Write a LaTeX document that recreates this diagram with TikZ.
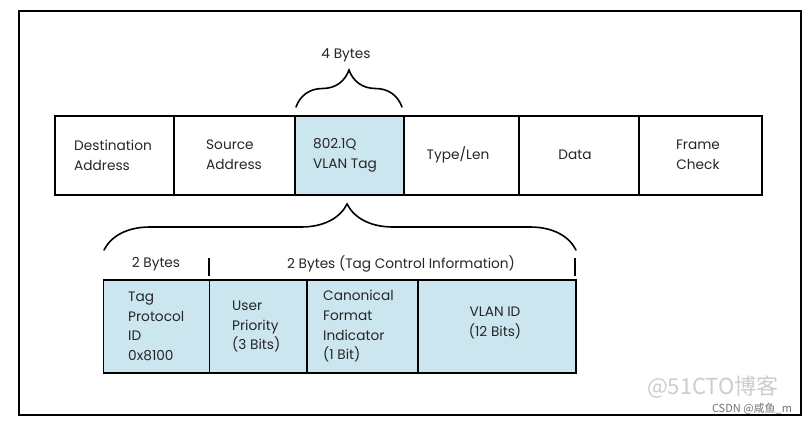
\documentclass[tikz,border=0pt]{standalone}
\usepackage{fontspec}
\setmainfont{Poppins}
\newfontfamily\cjk{Noto Sans CJK SC}
\usetikzlibrary{decorations.pathreplacing}
\definecolor{tagblue}{RGB}{204,230,240}
\definecolor{wm}{RGB}{205,205,205}
\tikzset{
  field/.style={draw=black, line width=1.3pt},
  blue/.style={field, fill=tagblue},
  lbl/.style={font=\fontsize{13.7}{19.7}\selectfont, inner sep=0pt, text=black!85},
  bracedeco/.style={decorate, line width=1.6pt, line cap=round}
}
\begin{document}
\begin{tikzpicture}[x=1pt,y=-1pt]
\useasboundingbox (0,0) rectangle (812,426);
\fill[white] (0,0) rectangle (812,426);
\draw[line width=2.8pt] (19,11) rectangle (801,415);
% top row
\node[field, inner sep=0pt, minimum width=119pt, minimum height=79pt] (dst) at (114.5,155.5) {};
\node[field, inner sep=0pt, minimum width=121pt, minimum height=79pt] (src) at (234.5,155.5) {};
\node[blue, inner sep=0pt, minimum width=109pt, minimum height=79pt] (tag) at (349.5,155.5) {};
\node[field, inner sep=0pt, minimum width=115pt, minimum height=79pt] (typ) at (461.5,155.5) {};
\node[field, inner sep=0pt, minimum width=120pt, minimum height=79pt] (dat) at (579,155.5) {};
\node[field, inner sep=0pt, minimum width=123pt, minimum height=79pt] (fcs) at (700.5,155.5) {};
\node[lbl, anchor=west, align=left] (tdst) at (74,155) {Destination\\Address};
\node[lbl, anchor=west, align=left] (tsrc) at (206,155) {Source\\Address};
\node[lbl, anchor=west, align=left] (ttag) at (313,155) {802.1Q\\VLAN Tag};
\node[lbl] (ttyp) at (458,155) {Type/Len};
\node[lbl] (tdat) at (575,155) {Data};
\node[lbl, align=center] (tfcs) at (698,155) {Frame\\Check};
% top brace
\coordinate (b1s) at (296,107);
\coordinate (b1e) at (402,107);
\draw[bracedeco, decoration={brace, amplitude=37pt}] (b1s) -- (b1e);
\node[lbl] (four) at (346,55) {4 Bytes};
% bottom brace
\coordinate (b2s) at (104,250);
\coordinate (b2e) at (576,250);
\draw[bracedeco, decoration={brace, amplitude=46pt, aspect=0.515}] (b2s) -- (b2e);
% byte labels and ticks
\node[lbl] (twob) at (156,264) {2 Bytes};
\node[lbl] (tci) at (401,264) {2 Bytes (Tag Control Information)};
\coordinate (k1a) at (209,258); \coordinate (k1b) at (209,276);
\coordinate (k2a) at (575,258); \coordinate (k2b) at (575,276);
\draw[line width=1.4pt] (k1a) -- (k1b);
\draw[line width=1.4pt] (k2a) -- (k2b);
% bottom row
\node[blue, inner sep=0pt, minimum width=106pt, minimum height=93pt] (tpid) at (156.5,326.5) {};
\node[blue, inner sep=0pt, minimum width=98pt, minimum height=93pt] (pri) at (258.5,326.5) {};
\node[blue, inner sep=0pt, minimum width=111pt, minimum height=93pt] (cfi) at (362.5,326.5) {};
\node[blue, inner sep=0pt, minimum width=158pt, minimum height=93pt] (vid) at (497,326.5) {};
\node[lbl, anchor=west, align=left] (ttpid) at (128,326.5) {Tag\\Protocol\\ID\\0x8100};
\node[lbl, anchor=west, align=left] (tpri) at (232,326.5) {User\\Priority\\(3 Bits)};
\node[lbl, anchor=west, align=left] (tcfi) at (323,326.5) {Canonical\\Format\\Indicator\\(1 Bit)};
\node[lbl, align=center] (tvid) at (495,323) {VLAN ID\\(12 Bits)};
% watermarks
\node[inner sep=0pt, text=wm, font=\cjk\fontsize{22}{22}\selectfont] (wm1) at (713,387) {@51CTO博客};
\node[inner sep=0pt, text=black!55, font=\cjk\fontsize{11}{11}\selectfont] (wm2) at (752,409) {CSDN @咸鱼\_m};
\end{tikzpicture}
\end{document}
